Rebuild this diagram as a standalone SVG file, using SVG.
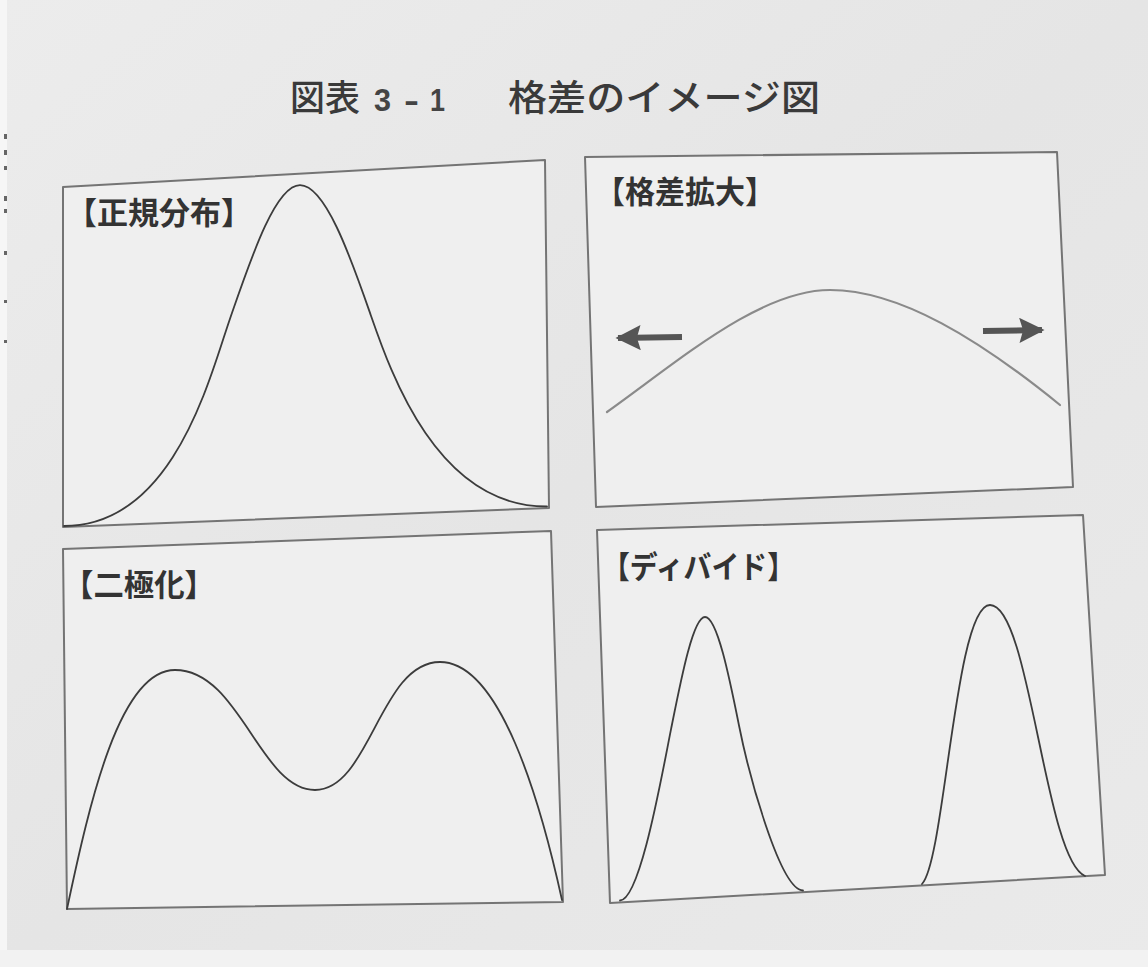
<svg xmlns="http://www.w3.org/2000/svg" width="1148" height="967" viewBox="0 0 1148 967">
<defs>
<linearGradient id="bg" x1="0" y1="0" x2="1" y2="1">
<stop offset="0" stop-color="#ececec"/>
<stop offset="0.5" stop-color="#e5e5e5"/>
<stop offset="1" stop-color="#eaeaea"/>
</linearGradient>
<marker id="head" viewBox="0 0 10 10" refX="9" refY="5" markerWidth="4.7" markerHeight="4.2" orient="auto" markerUnits="strokeWidth">
<path d="M0,0 L10,5 L0,10 L1.5,5 Z" fill="#555"/>
</marker>
<style>
.panel{fill:#efefef;stroke:#747474;stroke-width:2;stroke-linejoin:round}
.curve{fill:none;stroke:#3c3c3c;stroke-width:1.8;stroke-linejoin:round;stroke-linecap:round}
.soft{fill:none;stroke:#8a8a8a;stroke-width:2.2;stroke-linecap:round}
.lbl{font-family:"Noto Sans CJK JP","Noto Sans CJK SC",sans-serif;font-size:31px;font-weight:700;fill:#333}
.ttl{font-family:"Noto Sans CJK JP","Noto Sans CJK SC",sans-serif;font-size:36px;font-weight:500;fill:#3a3a3a}
.num{font-family:"Liberation Sans","Noto Sans",sans-serif;font-size:32px;font-weight:700;fill:#444}
.arr{stroke:#555;stroke-width:6;fill:none}
</style>
</defs>
<rect x="0" y="0" width="1148" height="967" fill="url(#bg)"/>
<rect x="0" y="0" width="7" height="967" fill="#f6f6f6"/>
<rect x="0" y="950" width="1148" height="17" fill="#f2f2f2"/>
<g id="margin-marks" fill="#666">
<rect x="4" y="134" width="3" height="5"/>
<rect x="4" y="150" width="3" height="5"/>
<rect x="4" y="166" width="3" height="4"/>
<rect x="4" y="196" width="3" height="5"/>
<rect x="4" y="209" width="3" height="4"/>
<rect x="4" y="251" width="3" height="4"/>
<rect x="4" y="300" width="3" height="3"/>
<rect x="4" y="340" width="3" height="3"/>
</g>
<g id="title">
<text class="ttl" x="290" y="111" textLength="70" lengthAdjust="spacingAndGlyphs">図表</text>
<text class="num" x="374" y="111" textLength="17" lengthAdjust="spacingAndGlyphs">3</text>
<text class="num" x="404" y="111" textLength="15" lengthAdjust="spacingAndGlyphs">-</text>
<text class="num" x="430" y="111" textLength="15" lengthAdjust="spacingAndGlyphs">1</text>
<text class="ttl" x="508" y="111" textLength="312" lengthAdjust="spacingAndGlyphs">格差のイメージ図</text>
</g>
<g id="panel-normal">
<polygon class="panel" points="63,187 545,160 549,508 63,527"/>
<text class="lbl" x="66" y="224" textLength="186" lengthAdjust="spacingAndGlyphs">【正規分布】</text>
<path class="curve" d="M64,526 C174,526 210,376.2 230,318.7 C250,261.2 275,185.2 300,185.2 C325,185.2 350,255.4 370,312.9 C390,370.4 436,507 547,506.5"/>
</g>
<g id="panel-widening">
<polygon class="panel" points="585,157 1057,152 1073,487 596,507"/>
<text class="lbl" x="595" y="203" textLength="180" lengthAdjust="spacingAndGlyphs">【格差拡大】</text>
<path class="soft" d="M607,412 C680,360 760,290 830,290 C900,290 980,340 1060,405"/>
</g>
<g id="panel-polarization">
<polygon class="panel" points="63,549 551,531 563,902 67,909"/>
<text class="lbl" x="63" y="596" textLength="152" lengthAdjust="spacingAndGlyphs">【二極化】</text>
<path class="curve" d="M67,909 C90,800 120,670 175,670 C240,670 260,790 315,790 C370,790 380,662 440,662 C500,662 540,800 562,900"/>
</g>
<g id="panel-divide">
<polygon class="panel" points="597,530 1083,515 1105,875 610,903"/>
<text class="lbl" x="602" y="578" textLength="193" lengthAdjust="spacingAndGlyphs">【ディバイド】</text>
<path class="curve" d="M620,900.5 C640,900 661.3,777.9 671,729.4 C680.7,680.9 692.9,617 705,617 C717.1,617 729.3,677 739,725.5 C748.7,774 780,890 803,890.5"/>
<path class="curve" d="M922,884 C945,860 955,605 990,605 C1030,605 1045,860 1085,876"/>
</g>
<g id="connectors">
<line class="arr" x1="682" y1="337" x2="618" y2="338" marker-end="url(#head)"/>
<line class="arr" x1="983" y1="331" x2="1042" y2="330" marker-end="url(#head)"/>
</g>
</svg>
